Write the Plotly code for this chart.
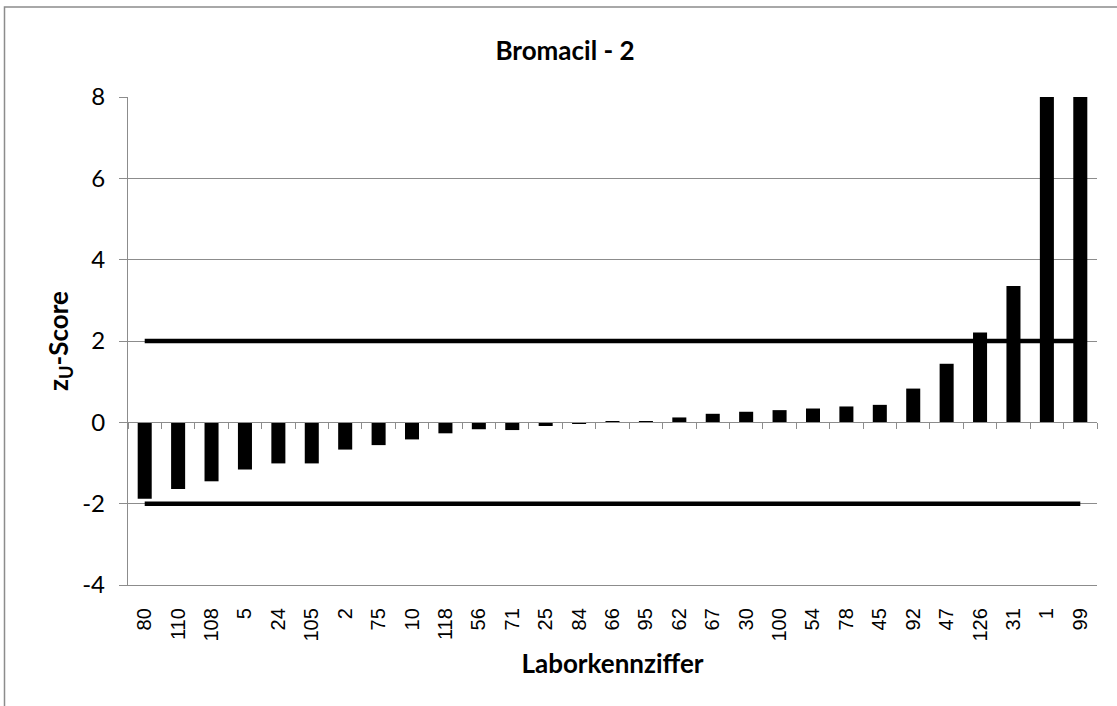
import plotly.graph_objects as go

labs = ["80", "110", "108", "5", "24", "105", "2", "75", "10", "118", "56", "71", "25", "84",
        "66", "95", "62", "67", "30", "100", "54", "78", "45", "92", "47", "126", "31", "1", "99"]
zscores = [-1.88, -1.64, -1.45, -1.16, -1.01, -1.01, -0.67, -0.56, -0.42, -0.27, -0.17, -0.19,
           -0.09, -0.03, 0.03, 0.03, 0.12, 0.21, 0.26, 0.30, 0.34, 0.39, 0.43, 0.83, 1.44,
           2.21, 3.35, 10.5, 10.5]
upper_limit = [2] * len(labs)
lower_limit = [-2] * len(labs)
y_ticks = [-4, -2, 0, 2, 4, 6, 8]
y_ticktext = ["-4", "-2", "0", "2", "4", "6", "8"]

title_font = "Lato, Open Sans, sans-serif"
grid = "#8c8c8c"

fig = go.Figure()
fig.add_trace(go.Bar(x=labs, y=zscores, marker=dict(color="black", line=dict(width=0)),
                     width=0.42, showlegend=False))
fig.add_trace(go.Scatter(x=labs, y=upper_limit, mode="lines", xaxis="x2",
                         line=dict(color="black", width=4.5), showlegend=False))
fig.add_trace(go.Scatter(x=labs, y=lower_limit, mode="lines", xaxis="x2",
                         line=dict(color="black", width=4.5), showlegend=False))

fig.update_layout(
    width=1117, height=706,
    margin=dict(l=128, r=20, t=97, b=121),
    paper_bgcolor="white", plot_bgcolor="white",
    title=dict(text="<b>Bromacil - 2</b>", x=565 / 1117, xanchor="center",
               y=1 - 51 / 706, yanchor="middle",
               font=dict(family=title_font, size=26, color="black")),
    bargap=0.58,
    xaxis=dict(type="category", categoryorder="array", categoryarray=labs,
               showgrid=False, showline=True, linecolor=grid, linewidth=1.3,
               ticks="", tickangle=-90, ticklabelstandoff=14, automargin=False,
               tickfont=dict(family="Liberation Sans, Arial, sans-serif", size=20, color="black"),
               title=dict(text="<b>Laborkennziffer</b>", standoff=14,
                          font=dict(family=title_font, size=26, color="black")),
               range=[-0.5, len(labs) - 0.5]),
    xaxis2=dict(type="category", matches="x", overlaying="x", anchor="free",
                position=4 / 12, showgrid=False, showline=True, linecolor=grid,
                linewidth=1.3, ticks="outside", tickson="boundaries", ticklen=6,
                tickcolor=grid, tickwidth=1.3, showticklabels=False),
    yaxis=dict(range=[-4, 8], tickvals=y_ticks, ticktext=y_ticktext,
               showgrid=True, gridcolor=grid, gridwidth=1.3, automargin=False,
               zeroline=False, showline=True, linecolor=grid, linewidth=1.3,
               ticks="outside", ticklen=8, tickcolor=grid, tickwidth=1.3,
               ticklabelstandoff=9,
               tickfont=dict(family=title_font, size=24, color="black"),
               title=dict(text="<b>z<sub>U</sub>-Score</b>", standoff=6,
                          font=dict(family=title_font, size=26, color="black"))),
    shapes=[dict(type="rect", xref="paper", yref="paper",
                 x0=(4.5 - 128) / 969, x1=(1125 - 128) / 969,
                 y0=(585 - 715) / 488, y1=(585 - 7) / 488,
                 line=dict(color="#8c8c8c", width=1.5), fillcolor="rgba(0,0,0,0)",
                 layer="below")],
)

fig.write_html("out.html", config={"displayModeBar": False},
               post_script="document.body.style.margin='0';document.body.style.overflow='hidden';")
